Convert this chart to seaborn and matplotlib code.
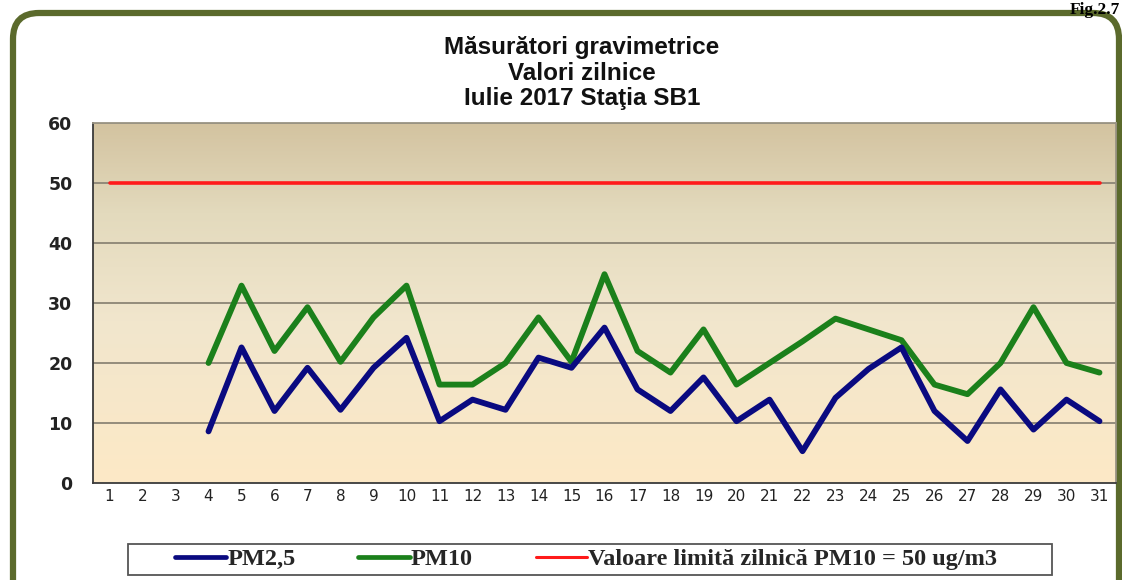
import numpy as np
import pandas as pd
import matplotlib.pyplot as plt
import seaborn as sns
from matplotlib.patches import FancyBboxPatch, Rectangle
from matplotlib.colors import LinearSegmentedColormap
from matplotlib.lines import Line2D

zile = list(range(1, 32))
pm25 = [np.nan, np.nan, np.nan, 8.6, 22.6, 12.0, 19.2, 12.2, 19.2, 24.2,
        10.3, 13.9, 12.2, 20.9, 19.2, 25.9, 15.6, 12.0, 17.6, 10.3,
        13.9, 5.3, 14.2, 19.0, 22.6, 12.0, 7.0, 15.6, 8.9, 13.9, 10.3]
pm10 = [np.nan, np.nan, np.nan, 20.0, 32.9, 22.0, 29.3, 20.2, 27.6, 32.9,
        16.4, 16.4, 20.0, 27.6, 20.2, 34.8, 22.0, 18.4, 25.6, 16.4,
        20.0, 23.6, 27.4, 25.6, 23.8, 16.4, 14.8, 20.0, 29.3, 20.0, 18.4]
limita = [50] * 31
y_ticks = [0, 10, 20, 30, 40, 50, 60]

titlu = "Măsurători gravimetrice\nValori zilnice\nIulie 2017 Staţia SB1"
etichete = ["PM2,5", "PM10", "Valoare limită zilnică PM10 = 50 ug/m3"]
culori = ["#0a0a80", "#1b801b", "#ff1a1a"]

df = pd.DataFrame({"zi": zile, "pm25": pm25, "pm10": pm10, "limita": limita})

sns.set_style("white")
plt.rcParams['font.family'] = ['DejaVu Sans']

W, H = 1122, 580
fig = plt.figure(figsize=(W / 100, H / 100), dpi=100)
fig.patch.set_facecolor("white")

# rounded olive frame around the chart (pixel coordinates)
frame = FancyBboxPatch((13, -40), 1106, 607, boxstyle="round,pad=0,rounding_size=26",
                       facecolor="white", edgecolor="#5b6a2c", linewidth=4.5,
                       transform=None, zorder=0)
fig.patches.append(frame)

ax = fig.add_axes([93 / W, 1 - 483 / H, (1116 - 93) / W, (483 - 123) / H])
ax.set_zorder(2)

# gradient background of plot area
grad_cmap = LinearSegmentedColormap.from_list(
    "bg", [(0.0, "#fde9c6"), (0.45, "#f1e6cd"), (0.75, "#e3dabd"), (1.0, "#d3c3a0")])
ax.imshow(np.linspace(0, 1, 256).reshape(-1, 1), cmap=grad_cmap, origin="lower",
          extent=[0, 1, 0, 1], transform=ax.transAxes, aspect="auto", zorder=0)

for yv in y_ticks[1:]:
    ax.axhline(yv, color="#8c8575", linewidth=1.3, zorder=1)

sns.lineplot(data=df, x="zi", y="limita", color=culori[2], linewidth=2.6, ax=ax, zorder=3)
sns.lineplot(data=df, x="zi", y="pm10", color=culori[1], linewidth=4.2, ax=ax, zorder=4)
sns.lineplot(data=df, x="zi", y="pm25", color=culori[0], linewidth=4.2, ax=ax, zorder=5)

ax.set_xlim(0.5, 31.5)
ax.set_ylim(0, 60)
ax.set_xlabel("")
ax.set_ylabel("")
ax.set_xticks(zile)
ax.set_xticklabels([str(z) for z in zile], fontsize=11, color="#222222")
ax.set_xticks(np.arange(0.5, 32, 1), minor=True)
ax.set_yticks(y_ticks)
ax.set_yticklabels([str(v) for v in y_ticks], fontsize=12.5, fontweight="bold", color="#222222")
ax.tick_params(axis="x", which="major", length=0, pad=4)
ax.tick_params(axis="x", which="minor", length=4, width=1, color="#555555", direction="out")
ax.tick_params(axis="y", which="major", length=4.3, width=1, color="#555555", direction="out", pad=10.5)

for s in ["left", "bottom"]:
    ax.spines[s].set_color("#3a3a3a")
    ax.spines[s].set_linewidth(1.3)
for s in ["top", "right"]:
    ax.spines[s].set_color("#9a9484")
    ax.spines[s].set_linewidth(1.3)

fig.text(582 / W, 1 - 73 / H, titlu, ha="center", va="center", fontsize=17.5,
         fontweight="bold", family="Liberation Sans", linespacing=1.16, color="#111111")

# legend with its own frame
fig.patches.append(Rectangle((128 / W, 1 - 575 / H), (1052 - 128) / W, (575 - 544) / H,
                             transform=fig.transFigure, facecolor="white",
                             edgecolor="#555555", linewidth=1.3, zorder=3))
handles = [Line2D([], [], color=c, linewidth=3.4 if i < 2 else 2.2) for i, c in enumerate(culori)]
leg = fig.legend(handles, etichete, loc="center", bbox_to_anchor=(586 / W, 1 - 559 / H),
                 ncol=3, frameon=False, handlelength=2.1, handletextpad=0.05,
                 columnspacing=2.6,
                 prop={"family": "Liberation Serif", "weight": "bold", "size": 17.5})
leg.set_zorder(4)

fig.text(1120 / W, 1 - 14 / H, "Fig.2.7", ha="right", va="baseline", fontsize=12.5,
         fontweight="bold", family="Liberation Serif", color="black", zorder=5)

fig.savefig("out.png", dpi=100)
